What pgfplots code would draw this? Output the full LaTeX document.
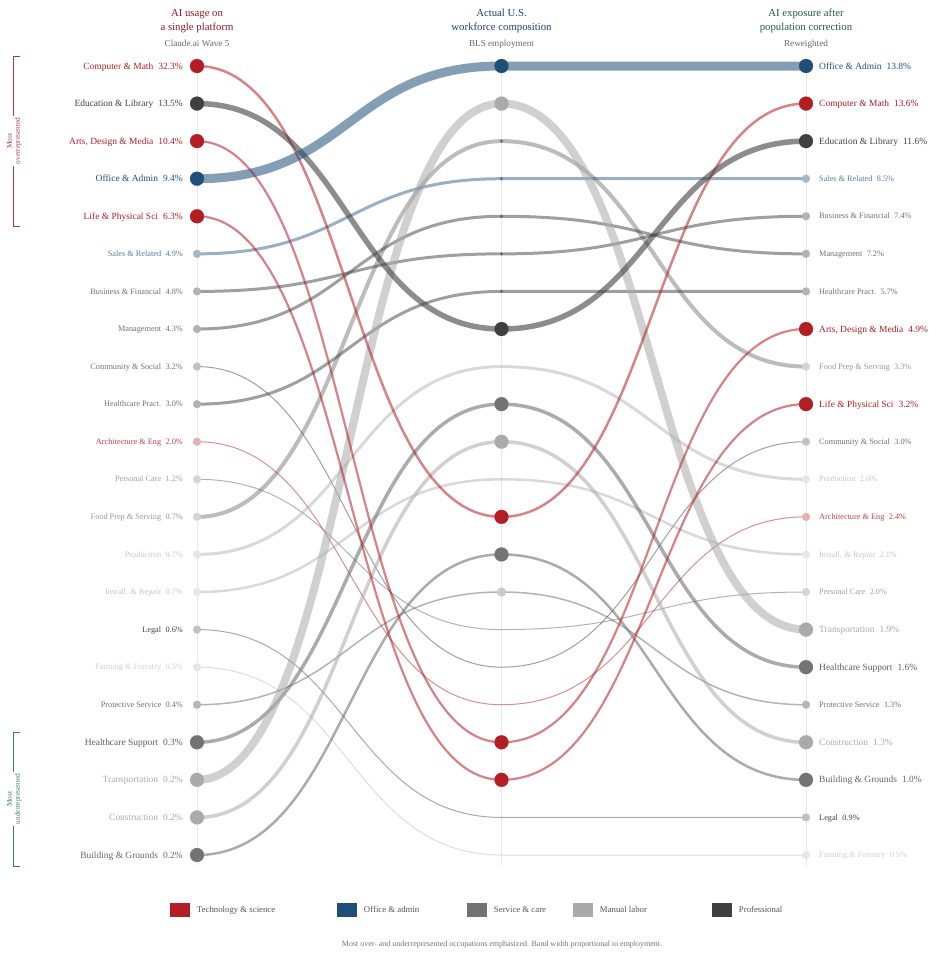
\documentclass[border=0pt]{standalone}
\usepackage{fontspec}
\setmainfont{Liberation Serif}
\usepackage{pgfplots}
\pgfplotsset{compat=1.18}

\definecolor{techred}{RGB}{178,30,36}
\definecolor{officeblue}{RGB}{31,78,121}
\definecolor{service}{RGB}{115,115,115}
\definecolor{manual}{RGB}{170,170,170}
\definecolor{prof}{RGB}{64,64,64}
\definecolor{guide}{RGB}{232,232,232}
\definecolor{titlered}{RGB}{140,28,36}
\definecolor{titleblue}{RGB}{31,63,102}
\definecolor{titlegreen}{RGB}{31,90,71}
\definecolor{brackred}{RGB}{160,60,72}
\definecolor{brackgreen}{RGB}{60,120,105}

\makeatletter
% link-style curves: horizontal tangent at every point, control points half way
\newif\ifbump@first
\def\bump@point#1{%
  \pgf@process{#1}%
  \edef\bump@nx{\the\pgf@x}\edef\bump@ny{\the\pgf@y}%
  \ifbump@first
    \pgfpathmoveto{\pgfqpoint{\bump@nx}{\bump@ny}}%
    \global\bump@firstfalse
  \else
    \pgf@xb=\bump@nx \pgf@xc=\bump@px
    \advance\pgf@xc by \pgf@xb \divide\pgf@xc by 2
    \edef\bump@do{\noexpand\pgfpathcurveto
      {\noexpand\pgfqpoint{\the\pgf@xc}{\bump@py}}%
      {\noexpand\pgfqpoint{\the\pgf@xc}{\bump@ny}}%
      {\noexpand\pgfqpoint{\bump@nx}{\bump@ny}}}%
    \bump@do
  \fi
  \xdef\bump@px{\bump@nx}\xdef\bump@py{\bump@ny}%
}
\pgfdeclareplothandler{\pgfplothandlerbump}{}{%
  start={\global\bump@firsttrue},
  point macro=\bump@point,
  jump={\global\bump@firsttrue},
}
\tikzset{bump/.code={\let\tikz@plot@handler=\pgfplothandlerbump}}
\makeatother

\pgfplotsset{
  band/.style n args={3}{bump, no marks, draw=#1, draw opacity=#2, line width=#3},
  dot/.style 2 args={only marks, mark=*, color=#1, mark size=#2, mark options={line width=0.1bp}},
  lab/.style n args={5}{draw=none, mark=none, point meta=explicit symbolic,
    nodes near coords={\pgfplotspointmeta},
    every node near coord/.append style={anchor=#1, xshift=#2, yshift=#5,
      text=#3, font=\fontsize{#4}{#4}\selectfont, inner sep=0pt}},
  Lbig/.style={lab={base east}{-14bp}{#1}{9.5}{-3.1bp}},
  Lsmall/.style={lab={base east}{-14bp}{#1}{8.3}{-2.7bp}},
  Rbig/.style={lab={base west}{13bp}{#1}{9.5}{-3.1bp}},
  Rsmall/.style={lab={base west}{13bp}{#1}{8.3}{-2.7bp}},
  legsq/.style={legend image code/.code={\path[fill, draw=none] (0bp,-7bp) rectangle (20bp,7bp);}},
}

\begin{document}
\begin{tikzpicture}
\begin{axis}[
  width=929bp, height=954bp, scale only axis, hide axis, clip=false,
  xmin=-0.64696, xmax=2.40394,
  y dir=reverse, ymin=-0.75666, ymax=24.635,
  legend columns=5,
  legend cell align=left,
  legend style={at={(0.18299,0.04612)}, anchor=west, draw=none, fill=none,
    inner sep=0pt, outer sep=0pt, text=black!67,
    font=\fontsize{8.8}{10}\selectfont, nodes={inner sep=0pt},
    /tikz/every odd column/.append style={column sep=7bp}},
]
% legend first so the entries go with these images
\addlegendimage{legsq, fill=techred}\addlegendentry{\makebox[140bp][l]{Technology \& science}}
\addlegendimage{legsq, fill=officeblue}\addlegendentry{\makebox[103bp][l]{Office \& admin}}
\addlegendimage{legsq, fill=service}\addlegendentry{\makebox[79bp][l]{Service \& care}}
\addlegendimage{legsq, fill=manual}\addlegendentry{\makebox[112bp][l]{Manual labor}}
\addlegendimage{legsq, fill=prof}\addlegendentry{Professional}

% column guides
\addplot[guide, line width=0.8bp] coordinates {(0,0.8) (0,22.3)};
\addplot[guide, line width=0.8bp] coordinates {(1,0.8) (1,22.3)};
\addplot[guide, line width=0.8bp] coordinates {(2,0.8) (2,22.3)};

% brackets
\addplot[brackred, line width=1bp] coordinates {(-0.5813,0.7338) (-0.601,0.7338) (-0.601,5.285) (-0.5813,5.285)};
\addplot[brackgreen, line width=1bp] coordinates {(-0.5813,18.726) (-0.601,18.726) (-0.601,22.293) (-0.5813,22.293)};

% bands: (platform rank, BLS rank, reweighted rank)
% minor occupations
\addplot[band={officeblue}{0.45}{3bp}] coordinates {(0,6) (1,4) (2,4)};    % Sales
\addplot[band={prof}{0.5}{3bp}] coordinates {(0,7) (1,6) (2,5)};           % Business
\addplot[band={prof}{0.5}{3bp}] coordinates {(0,8) (1,5) (2,6)};           % Management
\addplot[band={prof}{0.5}{1bp}] coordinates {(0,9) (1,17) (2,11)};         % Community
\addplot[band={prof}{0.5}{3bp}] coordinates {(0,10) (1,7) (2,7)};          % Healthcare Pract.
\addplot[band={techred}{0.5}{1bp}] coordinates {(0,11) (1,18) (2,13)};     % Architecture
\addplot[band={prof}{0.4}{1bp}] coordinates {(0,12) (1,16) (2,15)};        % Personal Care
\addplot[band={prof}{0.35}{4bp}] coordinates {(0,13) (1,3) (2,9)};         % Food Prep
\addplot[band={manual}{0.45}{3bp}] coordinates {(0,14) (1,9) (2,12)};      % Production
\addplot[band={manual}{0.45}{2.5bp}] coordinates {(0,15) (1,12) (2,14)};   % Install & Repair
\addplot[band={prof}{0.45}{1bp}] coordinates {(0,16) (1,21) (2,21)};       % Legal
\addplot[band={manual}{0.4}{1bp}] coordinates {(0,17) (1,22) (2,22)};      % Farming
\addplot[band={prof}{0.4}{1.5bp}] coordinates {(0,18) (1,15) (2,18)};      % Protective
% emphasized occupations
\addplot[band={service}{0.6}{2.5bp}] coordinates {(0,22) (1,14) (2,20)};   % Building & Grounds
\addplot[band={manual}{0.55}{3.5bp}] coordinates {(0,21) (1,11) (2,19)};   % Construction
\addplot[band={service}{0.6}{3.5bp}] coordinates {(0,19) (1,10) (2,17)};   % Healthcare Support
\addplot[band={manual}{0.55}{8bp}] coordinates {(0,20) (1,2) (2,16)};      % Transportation
\addplot[band={techred}{0.55}{2.2bp}] coordinates {(0,5) (1,20) (2,10)};   % Life & Physical Sci
\addplot[band={techred}{0.55}{2.2bp}] coordinates {(0,3) (1,19) (2,8)};    % Arts
\addplot[band={techred}{0.55}{2.5bp}] coordinates {(0,1) (1,13) (2,2)};    % Computer & Math
\addplot[band={prof}{0.6}{5.5bp}] coordinates {(0,2) (1,8) (2,3)};         % Education
\addplot[band={officeblue}{0.55}{9bp}] coordinates {(0,4) (1,1) (2,1)};    % Office & Admin

% nodes, minor
\addplot[dot={officeblue!40}{4bp}] coordinates {(0,6) (2,4)};
\addplot[dot={prof!40}{4bp}] coordinates {(0,7) (2,5) (0,8) (2,6) (0,10) (2,7)};
\addplot[dot={prof!32}{4bp}] coordinates {(0,9) (2,11) (0,16) (2,21)};
\addplot[dot={techred!35}{4bp}] coordinates {(0,11) (2,13)};
\addplot[dot={prof!22}{4bp}] coordinates {(0,12) (2,15) (0,13) (2,9)};
\addplot[dot={prof!13}{4bp}] coordinates {(0,14) (2,12) (0,15) (2,14) (0,17) (2,22)};
\addplot[dot={prof!38}{4bp}] coordinates {(0,18) (2,18)};
\addplot[dot={prof!28}{4.5bp}] coordinates {(1,15)};
\addplot[dot={officeblue!80}{1.5bp}] coordinates {(1,4)};
\addplot[dot={prof!80}{1.5bp}] coordinates {(1,3) (1,5) (1,6) (1,7)};
% nodes, emphasized
\addplot[dot={techred}{7bp}] coordinates {(0,1) (1,13) (2,2) (0,3) (1,19) (2,8) (0,5) (1,20) (2,10)};
\addplot[dot={prof}{7bp}] coordinates {(0,2) (1,8) (2,3)};
\addplot[dot={officeblue}{7bp}] coordinates {(0,4) (1,1) (2,1)};
\addplot[dot={service}{7bp}] coordinates {(0,19) (1,10) (2,17) (0,22) (1,14) (2,20)};
\addplot[dot={manual}{7bp}] coordinates {(0,20) (1,2) (2,16) (0,21) (1,11) (2,19)};

% labels, left column
\addplot[Lbig=techred] coordinates {(0,1) [Computer \& Math\hspace{5bp}32.3\%] (0,3) [{Arts, Design \& Media\hspace{5bp}10.4\%}] (0,5) [Life \& Physical Sci\hspace{5bp}6.3\%]};
\addplot[Lbig=prof] coordinates {(0,2) [Education \& Library\hspace{5bp}13.5\%]};
\addplot[Lbig=officeblue] coordinates {(0,4) [Office \& Admin\hspace{5bp}9.4\%]};
\addplot[Lbig=prof!85] coordinates {(0,19) [Healthcare Support\hspace{5bp}0.3\%]};
\addplot[Lbig=prof!45] coordinates {(0,20) [Transportation\hspace{5bp}0.2\%] (0,21) [Construction\hspace{5bp}0.2\%]};
\addplot[Lbig=prof!80] coordinates {(0,22) [Building \& Grounds\hspace{5bp}0.2\%]};
\addplot[Lsmall=officeblue!75] coordinates {(0,6) [Sales \& Related\hspace{4.4bp}4.9\%]};
\addplot[Lsmall=prof!75] coordinates {(0,7) [Business \& Financial\hspace{4.4bp}4.8\%] (0,8) [Management\hspace{4.4bp}4.3\%] (0,9) [Community \& Social\hspace{4.4bp}3.2\%] (0,10) [Healthcare Pract.\hspace{4.4bp}3.0\%] (0,18) [Protective Service\hspace{4.4bp}0.4\%]};
\addplot[Lsmall=techred!85] coordinates {(0,11) [Architecture \& Eng\hspace{4.4bp}2.0\%]};
\addplot[Lsmall=prof!50] coordinates {(0,12) [Personal Care\hspace{4.4bp}1.2\%]};
\addplot[Lsmall=prof!55] coordinates {(0,13) [Food Prep \& Serving\hspace{4.4bp}0.7\%]};
\addplot[Lsmall=prof!30] coordinates {(0,14) [Production\hspace{4.4bp}0.7\%] (0,15) [Install. \& Repair\hspace{4.4bp}0.7\%]};
\addplot[Lsmall=prof] coordinates {(0,16) [Legal\hspace{4.4bp}0.6\%]};
\addplot[Lsmall=prof!25] coordinates {(0,17) [Farming \& Forestry\hspace{4.4bp}0.5\%]};

% labels, right column
\addplot[Rbig=officeblue] coordinates {(2,1) [Office \& Admin\hspace{5bp}13.8\%]};
\addplot[Rbig=techred] coordinates {(2,2) [Computer \& Math\hspace{5bp}13.6\%] (2,8) [{Arts, Design \& Media\hspace{5bp}4.9\%}] (2,10) [Life \& Physical Sci\hspace{5bp}3.2\%]};
\addplot[Rbig=prof] coordinates {(2,3) [Education \& Library\hspace{5bp}11.6\%]};
\addplot[Rbig=prof!45] coordinates {(2,16) [Transportation\hspace{5bp}1.9\%] (2,19) [Construction\hspace{5bp}1.3\%]};
\addplot[Rbig=prof!85] coordinates {(2,17) [Healthcare Support\hspace{5bp}1.6\%]};
\addplot[Rbig=prof!80] coordinates {(2,20) [Building \& Grounds\hspace{5bp}1.0\%]};
\addplot[Rsmall=officeblue!75] coordinates {(2,4) [Sales \& Related\hspace{4.4bp}8.5\%]};
\addplot[Rsmall=prof!75] coordinates {(2,5) [Business \& Financial\hspace{4.4bp}7.4\%] (2,6) [Management\hspace{4.4bp}7.2\%] (2,7) [Healthcare Pract.\hspace{4.4bp}5.7\%] (2,11) [Community \& Social\hspace{4.4bp}3.0\%] (2,18) [Protective Service\hspace{4.4bp}1.3\%]};
\addplot[Rsmall=prof!55] coordinates {(2,9) [Food Prep \& Serving\hspace{4.4bp}3.3\%]};
\addplot[Rsmall=prof!30] coordinates {(2,12) [Production\hspace{4.4bp}2.6\%] (2,14) [Install. \& Repair\hspace{4.4bp}2.1\%]};
\addplot[Rsmall=techred!85] coordinates {(2,13) [Architecture \& Eng\hspace{4.4bp}2.4\%]};
\addplot[Rsmall=prof!50] coordinates {(2,15) [Personal Care\hspace{4.4bp}2.0\%]};
\addplot[Rsmall=prof] coordinates {(2,21) [Legal\hspace{4.4bp}0.9\%]};
\addplot[Rsmall=prof!25] coordinates {(2,22) [Farming \& Forestry\hspace{4.4bp}0.5\%]};

% column headings
\node[anchor=base, text=titlered, font=\fontsize{10.8}{12}\selectfont] at (axis cs:0,-0.3175) {AI usage on};
\node[anchor=base, text=titlered, font=\fontsize{10.8}{12}\selectfont] at (axis cs:0,0.0551) {a single platform};
\node[anchor=base, text=black!60, font=\fontsize{9.2}{11}\selectfont] at (axis cs:0,0.4863) {Claude.ai Wave 5};
\node[anchor=base, text=titleblue, font=\fontsize{10.8}{12}\selectfont] at (axis cs:1,-0.3175) {Actual U.S.};
\node[anchor=base, text=titleblue, font=\fontsize{10.8}{12}\selectfont] at (axis cs:1,0.0551) {workforce composition};
\node[anchor=base, text=black!60, font=\fontsize{9.2}{11}\selectfont] at (axis cs:1,0.4863) {BLS employment};
\node[anchor=base, text=titlegreen, font=\fontsize{10.8}{12}\selectfont] at (axis cs:2,-0.3175) {AI exposure after};
\node[anchor=base, text=titlegreen, font=\fontsize{10.8}{12}\selectfont] at (axis cs:2,0.0551) {population correction};
\node[anchor=base, text=black!60, font=\fontsize{9.2}{11}\selectfont] at (axis cs:2,0.4863) {Reweighted};

% bracket captions
\node[rotate=90, fill=white, align=center, inner sep=1.5bp, text=brackred, font=\fontsize{7.3}{8}\selectfont] at (axis cs:-0.6,2.996) {Most\\overrepresented};
\node[rotate=90, fill=white, align=center, inner sep=1.5bp, text=brackgreen, font=\fontsize{7.3}{8}\selectfont] at (axis cs:-0.6,20.51) {Most\\underrepresented};

% footnote
\node[anchor=base, text=black!55, font=\fontsize{8}{10}\selectfont] at (axis cs:1.0016,24.4224) {Most over- and underrepresented occupations emphasized. Band width proportional to employment.};
\end{axis}
\pgfresetboundingbox
\useasboundingbox (current axis.south west) rectangle (current axis.north east);
\end{tikzpicture}
\end{document}
